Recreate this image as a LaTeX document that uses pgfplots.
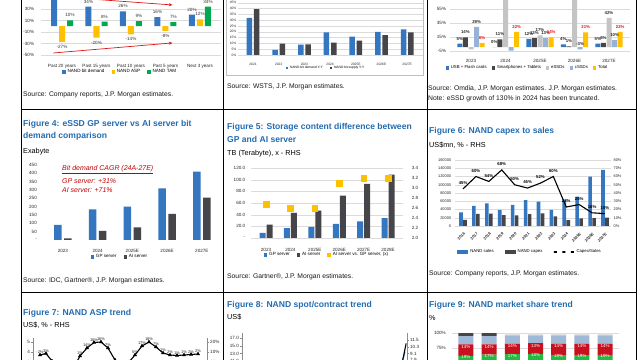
\documentclass[border=0pt]{standalone}
\usepackage{pgfplots}
\pgfplotsset{compat=1.18}
\usepackage{fontspec}
\setmainfont{Liberation Sans}
\usetikzlibrary{arrows.meta}
\newcommand\fs[1]{\fontsize{#1}{#1}\selectfont}
\definecolor{jpblue}{RGB}{52,118,192}
\definecolor{ttlblue}{RGB}{35,108,178}
\definecolor{jpdark}{RGB}{70,70,74}
\definecolor{jpyellow}{RGB}{255,192,0}
\definecolor{jpgreen}{RGB}{0,168,80}
\definecolor{jplgrey}{RGB}{196,196,196}
\definecolor{jplblue}{RGB}{150,178,214}
\definecolor{jpred}{RGB}{225,20,20}
\definecolor{annred}{RGB}{192,0,0}
\definecolor{segred}{RGB}{200,16,30}
\definecolor{segbg}{RGB}{160,185,215}
\pgfplotsset{
  sqleg/.style={legend image code/.code={\fill[##1] (0bp,-#1/2) rectangle (#1,#1/2);}},
  base/.style={scale only axis, axis line style={draw=none}, major tick style={draw=none}, minor tick style={draw=none},
    ymajorgrids, grid style={draw=black!14, line width=0.3bp},
    ticklabel style={text=black!85, inner sep=1bp}, scaled y ticks=false,
    /pgf/number format/assume math mode=true,
    legend style={draw=none, fill=none, legend columns=-1, inner sep=0pt, outer sep=0pt,
      /tikz/every even column/.append style={column sep=5bp}},
    legend cell align=left},
}
\tikzset{
  ttl/.style={anchor=west, inner sep=0pt, font=\fs{8.6}\bfseries, text=ttlblue},
  src/.style={anchor=west, inner sep=0pt, font=\fs{6.8}, text=black!90},
  unit/.style={anchor=west, inner sep=0pt, font=\fs{7.3}, text=black},
}
\begin{document}
\begin{tikzpicture}
\useasboundingbox (0,0) rectangle (640bp,360bp);
\clip (0,0) rectangle (640bp,360bp);
\fill[white] (0,0) rectangle (640bp,360bp);
\draw[line width=0.7bp] (21bp,0) -- (21bp,360bp) (223bp,0) -- (223bp,360bp) (427bp,0) -- (427bp,360bp)
  (636bp,0) -- (636bp,360bp)
  (21bp,251bp) -- (636bp,251bp) (21bp,68bp) -- (636bp,68bp);

%%%%% Panel 1
\begin{axis}[base, at={(41.3bp,305bp)}, anchor=south west, width=179.4bp, height=69bp,
  xmin=-0.6, xmax=4.6, ymin=-50, ymax=70,
  ytick={-50,-30,-10,10,30,50}, yticklabels={-50\%,-30\%,-10\%,10\%,30\%,50\%},
  xtick={0,...,4}, xticklabels={Past 20 years,Past 15 years,Past 10 years,Past 5 years,Next 3 years},
  ticklabel style={font=\fs{4.6}}, yticklabel style={xshift=-6bp}, xticklabel style={yshift=-3.5bp},
  ybar=2bp, bar width=6bp, sqleg={3.3bp},
  nodes near coords={\pgfmathprintnumber{\pgfplotspointmeta}\%},
  every node near coord/.append style={font=\fs{4.6}, text=black!80},
  legend style={at={(0.44,-0.246)}, anchor=center, font=\fs{4.6}}]
\addplot[fill=jpblue, draw=none] coordinates {(0,50) (1,34) (2,26) (3,16) (4,20)};
\addlegendentry{NAND bit demand}
\addplot[fill=jpyellow, draw=none] coordinates {(0,-27) (1,-20) (2,-14) (3,-8) (4,12)};
\addlegendentry{NAND ASP}
\addplot[fill=jpgreen, draw=none] coordinates {(0,10) (1,8) (2,9) (3,7) (4,34)};
\addlegendentry{NAND TAM}
\draw[jpred, line width=0.7bp, -{Stealth[length=3.5bp,width=3bp]}] (axis cs:-0.25,52) -- (axis cs:3.2,37);
\draw[jpred, line width=0.7bp, -{Stealth[length=3.5bp,width=3bp]}] (axis cs:-0.25,-46.5) -- (axis cs:3.2,-29);
\end{axis}
\node[src] at (23bp,265bp) {Source: Company reports, J.P. Morgan estimates.};

%%%%% Panel 2
\draw[black!25, line width=0.4bp] (226bp,285bp) rectangle (423bp,370bp);
\begin{axis}[base, at={(237.6bp,305bp)}, anchor=south west, width=185bp, height=52.3bp,
  xmin=-0.6, xmax=6.6, ymin=0, ymax=45, ytick={0,5,...,45}, yticklabel={\pgfmathprintnumber{\tick}\%},
  xtick={0,...,6}, xticklabels={2021,2022,2023,2024,2025E,2026E,2027E},
  ticklabel style={font=\fs{3.3}}, xticklabel style={yshift=-3bp},
  ybar=1.8bp, bar width=5.5bp, sqleg={2.4bp},
  legend style={at={(0.478,-0.249)}, anchor=center, font=\fs{3.3}}]
\addplot[fill=jpblue, draw=none] coordinates {(0,32) (1,4.3) (2,8.9) (3,19.5) (4,15.8) (5,20) (6,22)};
\addlegendentry{NAND bit demand Y-Y}
\addplot[fill=jpdark, draw=none] coordinates {(0,39.4) (1,9.8) (2,9.2) (3,10.6) (4,12.4) (5,17.2) (6,19.5)};
\addlegendentry{NAND bit supply Y-Y}
\end{axis}
\node[src] at (227bp,273bp) {Source: WSTS, J.P. Morgan estimates.};

%%%%% Panel 3
\begin{axis}[base, at={(450.3bp,309.3bp)}, anchor=south west, width=179.4bp, height=56bp,
  xmin=-0.6, xmax=4.6, ymin=-5, ymax=75, ytick={-5,15,35,55,75}, yticklabels={-5\%,15\%,35\%,55\%,75\%},
  xtick={0,...,4}, xticklabels={2023,2024,2025E,2026E,2027E},
  ticklabel style={font=\fs{4.6}}, yticklabel style={xshift=-3bp}, xticklabel style={yshift=-3bp},
  ybar=0.6bp, bar width=5bp, sqleg={3.3bp}, point meta=explicit symbolic, nodes near coords,
  every node near coord/.append style={font=\fs{4.3}\bfseries, text=black!85},
  legend style={at={(0.43,-0.309)}, anchor=center, font=\fs{4.3}, /tikz/every even column/.append style={column sep=3bp}}]
\addplot[fill=jpblue, draw=none] coordinates {(0,5)[5\%] (1,0)[0\%] (2,12)[12\%] (3,4)[4\%] (4,5)[5\%]};
\addlegendentry{USB + Flash cards}
\addplot[fill=jpdark, draw=none] coordinates {(0,14)[14\%] (1,11)[11\%] (2,13)[13\%] (3,1)[1\%] (4,6)[6\%]};
\addlegendentry{Smartphones + Tablets}
\addplot[fill=jplgrey, draw=none] coordinates {(0,-3)[] (1,130)[] (2,17)[17\%] (3,90)[] (4,42)[42\%]};
\addlegendentry{eSSDs}
\addplot[fill=jplblue, draw=none] coordinates {(0,29)[29\%] (1,-5)[] (2,13)[13\%] (3,-3)[-3\%] (4,10)[10\%]};
\addlegendentry{cSSDs}
\addplot[fill=jpyellow, draw=none, every node near coord/.append style={text=jpred}] coordinates {(0,6)[6\%] (1,22)[22\%] (2,14)[14\%] (3,21)[21\%] (4,22)[22\%]};
\addlegendentry{Total}
\end{axis}
\node[src] at (428bp,271bp) {Source: Omdia, J.P. Morgan estimates. J.P. Morgan estimates.};
\node[src] at (428bp,261bp) {Note: eSSD growth of 130\% in 2024 has been truncated.};

%%%%% Panel 4
\node[ttl] at (23bp,236bp) {Figure 4: eSSD GP server vs AI server bit};
\node[ttl] at (23bp,224bp) {demand comparison};
\node[unit] at (23bp,208bp) {Exabyte};
\begin{axis}[base, ymajorgrids=false, at={(42bp,120bp)}, anchor=south west, width=175.5bp, height=75bp,
  xmin=-0.6, xmax=4.45, ymin=0, ymax=450, ytick={0,50,...,450},
  yticklabels={-,50,100,150,200,250,300,350,400,450},
  xtick={0,...,4}, xticklabels={2023,2024,2025E,2026E,2027E},
  ticklabel style={font=\fs{4.6}}, yticklabel style={xshift=-4bp}, xticklabel style={yshift=-3.5bp},
  ybar=2.5bp, bar width=7.5bp, sqleg={3.3bp},
  legend style={at={(0.444,-0.227)}, anchor=center, font=\fs{4.6}}]
\addplot[fill=jpblue, draw=none] coordinates {(0,90) (1,184) (2,200) (3,310) (4,410)};
\addlegendentry{GP server}
\addplot[fill=jpdark, draw=none] coordinates {(0,10) (1,54) (2,76) (3,156) (4,254)};
\addlegendentry{AI server}
\draw[black!35, line width=0.4bp] (rel axis cs:0,0) -- (rel axis cs:1,0);
\end{axis}
\node[anchor=west, inner sep=0pt, font=\fs{7}\itshape, text=annred] at (62bp,190bp) {\underline{Bit demand CAGR (24A-27E)}};
\node[anchor=west, inner sep=0pt, font=\fs{7}\itshape, text=annred] at (62bp,179bp) {GP server: +31\%};
\node[anchor=west, inner sep=0pt, font=\fs{7}\itshape, text=annred] at (62bp,170bp) {AI server: +71\%};
\node[src] at (23bp,79bp) {Source: IDC, Gartner®, J.P. Morgan estimates.};

%%%%% Panel 5
\node[ttl] at (227bp,233bp) {Figure 5: Storage content difference between};
\node[ttl] at (227bp,221bp) {GP and AI server};
\node[unit] at (227bp,206bp) {TB (Terabyte), x - RHS};
\begin{axis}[base, at={(251.4bp,122bp)}, anchor=south west, width=151.3bp, height=70bp,
  xmin=-0.6, xmax=5.6, ymin=0, ymax=120, ytick={0,20,...,120},
  yticklabels={-,20.0,40.0,60.0,80.0,100.0,120.0},
  xtick={0,...,5}, xticklabels={2023,2024,2025E,2026E,2027E,2028E},
  ticklabel style={font=\fs{4.6}}, yticklabel style={xshift=-5bp}, xticklabel style={yshift=-4.5bp},
  ybar=1bp, bar width=6bp, sqleg={3.3bp},
  legend style={at={(0.5,-0.243)}, anchor=center, font=\fs{4.6}}]
\addplot[fill=jpblue, draw=none] coordinates {(0,8.6) (1,17) (2,19) (3,24) (4,28.6) (5,34)};
\addlegendentry{GP server}
\addplot[fill=jpdark, draw=none] coordinates {(0,22.9) (1,43) (2,47) (3,72.6) (4,92.6) (5,108.6)};
\addlegendentry{AI server}
\addlegendimage{fill=jpyellow, draw=none}
\addlegendentry{AI server vs. GP server, (x)}
\end{axis}
\begin{axis}[base, ymajorgrids=false, at={(251.4bp,122bp)}, anchor=south west, width=151.3bp, height=70bp,
  xmin=-0.6, xmax=5.6, ymin=2.0, ymax=3.4, ytick={2.0,2.2,...,3.4}, xtick=\empty,
  yticklabel pos=right, yticklabel={\pgfmathprintnumber[fixed,fixed zerofill,precision=1]{\tick}},
  ticklabel style={font=\fs{4.6}}, yticklabel style={xshift=8bp}]
\addplot[only marks, mark=square*, mark size=2.8bp, color=jpyellow] coordinates {(0,2.68) (1,2.6) (2,2.6) (3,3.09) (4,3.2) (5,3.19)};
\end{axis}
\node[src] at (227bp,83bp) {Source: Gartner®, J.P. Morgan estimates.};

%%%%% Panel 6
\node[ttl] at (429bp,229bp) {Figure 6: NAND capex to sales};
\node[unit] at (429bp,215bp) {US\$mn, \% - RHS};
\begin{axis}[base, at={(455.3bp,134bp)}, anchor=south west, width=156.1bp, height=66bp,
  xmin=-0.6, xmax=11.5, ymin=0, ymax=160000, ytick={0,20000,40000,60000,80000,100000,120000,140000,160000},
  yticklabels={0,20000,40000,60000,80000,100000,120000,140000,160000},
  xtick={0,...,11}, xticklabels={2016,2017,2018,2019,2020,2021,2022,2023,2024,2025E,2026E,2027E},
  xticklabel style={rotate=45, anchor=north east, font=\fs{3.9}\bfseries, yshift=-0.5bp},
  yticklabel style={font=\fs{3.9}, xshift=-3bp},
  ybar=0.4bp, bar width=3.6bp,
  legend image code/.code={\fill[#1] (0bp,-1.7bp) rectangle (11bp,1.7bp);},
  legend style={at={(0.479,-0.394)}, anchor=center, font=\fs{4.3}, /tikz/every even column/.append style={column sep=9bp}}]
\addplot[fill=jpblue, draw=none] coordinates {(0,33100) (1,48500) (2,55000) (3,38800) (4,51000) (5,63000) (6,59000) (7,38800) (8,63000) (9,71000) (10,119600) (11,135800)};
\addlegendentry{NAND sales}
\addplot[fill=jpdark, draw=none] coordinates {(0,14900) (1,29100) (2,29700) (3,26400) (4,25500) (5,29000) (6,30700) (7,23300) (8,14500) (9,18500) (10,19100) (11,20400)};
\addlegendentry{NAND capex}
\addlegendimage{line legend, black, line width=1.1bp}
\addlegendentry{Capex/Sales}
\end{axis}
\begin{axis}[base, ymajorgrids=false, at={(455.3bp,134bp)}, anchor=south west, width=156.1bp, height=66bp,
  xmin=-0.6, xmax=11.5, ymin=0, ymax=80, ytick={0,10,...,80}, xtick=\empty,
  yticklabel pos=right, yticklabel={\pgfmathprintnumber{\tick}\%},
  ticklabel style={font=\fs{3.9}}, yticklabel style={xshift=1bp}]
\addplot[black, line width=1.1bp, mark=none, nodes near coords={\pgfmathprintnumber{\pgfplotspointmeta}\%},
  every node near coord/.append style={font=\fs{4.3}\bfseries, text=black, anchor=south, yshift=0.5bp}]
  coordinates {(0,45) (1,60) (2,54) (3,68) (4,50) (5,46) (6,52) (7,60) (8,23) (9,26) (10,16) (11,15)};
\end{axis}
\node[src] at (429bp,86bp) {Source: Company reports, J.P. Morgan estimates.};

%%%%% Panel 7
\node[ttl] at (23bp,47bp) {Figure 7: NAND ASP trend};
\node[unit] at (23bp,35bp) {US\$, \% - RHS};
\begin{axis}[base, ymajorgrids=false, at={(33bp,-32bp)}, anchor=south west, width=174bp, height=54bp,
  xmin=0, xmax=174, ymin=0, ymax=5.4, ytick={1,2,3,4,5}, xtick=\empty,
  axis y line*=left, axis x line=none, axis line style={draw=black!45, line width=0.4bp},
  major tick style={draw=black!45, line width=0.4bp}, tick align=outside, major tick length=2bp,
  ticklabel style={font=\fs{4.6}}]
\addplot[black, line width=1.1bp, mark=triangle*, mark size=1.3bp, point meta=explicit symbolic, nodes near coords,
  every node near coord/.append style={font=\fs{4}, text=black!85, anchor=south, inner sep=0.6bp}]
  coordinates {(7,3.7)[-2\%] (13,3.85)[3\%] (19,3.1)[] (26,2.2)[] (33,1.6)[] (40,2.3)[] (47,3.6)[1\%]
  (54,4.4)[14\%] (61,4.95)[16\%] (68,5.0)[16\%] (75,4.4)[7\%] (82,3.2)[] (89,2.4)[] (96,3.0)[]
  (102,3.7)[5\%] (109,4.6)[17\%] (116,5.0)[18\%] (123,4.5)[7\%] (130,3.9)[1\%] (137,3.7)[2\%]
  (144,3.65)[1\%] (151,3.7)[1\%] (158,3.75)[2\%] (165,3.8)[2\%]};
\end{axis}
\begin{axis}[base, ymajorgrids=false, at={(33bp,-32bp)}, anchor=south west, width=174bp, height=54bp,
  xmin=0, xmax=174, ymin=-30, ymax=24, ytick={-20,-10,0,10,20}, xtick=\empty,
  yticklabel={\pgfmathprintnumber{\tick}\%},
  axis y line*=right, axis x line=none, axis line style={draw=black!45, line width=0.4bp},
  major tick style={draw=black!45, line width=0.4bp}, tick align=outside, major tick length=2bp,
  ticklabel style={font=\fs{4.6}}]
\addplot[draw=none] coordinates {(0,0)};
\end{axis}

%%%%% Panel 8
\node[ttl] at (227bp,55bp) {Figure 8: NAND spot/contract trend};
\node[unit] at (227bp,43bp) {US\$};
\begin{axis}[base, ymajorgrids=false, at={(242bp,-40bp)}, anchor=south west, width=165bp, height=67bp,
  xmin=0, xmax=40, ymin=1, ymax=18.3, ytick={1,3,...,17}, xtick=\empty,
  yticklabel={\pgfmathprintnumber[fixed,fixed zerofill,precision=1]{\tick}},
  axis y line*=left, axis x line=none, axis line style={draw=black!45, line width=0.4bp},
  major tick style={draw=black!45, line width=0.4bp}, tick align=outside, major tick length=2bp,
  ticklabel style={font=\fs{4.6}}]
\addplot[draw=none] coordinates {(0,5)};
\end{axis}
\begin{axis}[base, ymajorgrids=false, at={(242bp,-40bp)}, anchor=south west, width=165bp, height=67bp,
  xmin=0, xmax=40, ymin=0.83, ymax=12.74, ytick={1.9,3.1,4.3,5.5,6.7,7.9,9.1,10.3,11.5}, xtick=\empty,
  yticklabel={\pgfmathprintnumber[fixed,fixed zerofill,precision=1]{\tick}},
  axis y line*=right, axis x line=none, axis line style={draw=black!45, line width=0.4bp},
  major tick style={draw=black!45, line width=0.4bp}, tick align=outside, major tick length=2bp,
  ticklabel style={font=\fs{4.6}}]
\addplot[jpblue, line width=1bp] coordinates {(0,4.2) (5,4.0) (10,3.6) (15,3.3) (20,3.1) (25,3.0) (30,3.2) (35,3.6) (38,5.5) (39.5,9.3)};
\addplot[black, line width=1.1bp] coordinates {(0,3.0) (5,2.6) (10,2.2) (15,1.9) (20,1.8) (25,1.7) (30,1.9) (35,2.4) (38,4.5) (39.8,10.9)};
\end{axis}

%%%%% Panel 9
\node[ttl] at (429bp,55bp) {Figure 9: NAND market share trend};
\node[unit] at (429bp,42bp) {\%};
\begin{axis}[base, at={(452bp,-33bp)}, anchor=south west, width=167bp, height=60bp,
  xmin=-0.6, xmax=6.6, ymin=0, ymax=100, ytick={0,25,...,100}, yticklabel={\pgfmathprintnumber{\tick}\%},
  xtick=\empty, ticklabel style={font=\fs{4.6}}, yticklabel style={xshift=-5bp},
  ybar stacked, bar width=15bp, point meta=explicit symbolic, nodes near coords,
  every node near coord/.append style={font=\fs{4.5}, text=white, anchor=north, yshift=-1.5bp}]
\addplot[fill=jpblue, draw=none] coordinates {(0,51)[] (1,52)[] (2,54)[] (3,54)[] (4,51)[] (5,51)[] (6,51)[]};
\addplot[fill=jpgreen!80!lime, draw=none] coordinates {(0,11)[11\%] (1,12)[12\%] (2,11)[11\%] (3,11)[11\%] (4,12)[12\%] (5,12)[12\%] (6,12)[12\%]};
\addplot[fill=segred, draw=none] coordinates {(0,19)[19\%] (1,17)[17\%] (2,17)[17\%] (3,18)[18\%] (4,19)[19\%] (5,19)[19\%] (6,19)[19\%]};
\addplot[fill=segbg, draw=none] coordinates {(0,14)[14\%] (1,14)[14\%] (2,14)[14\%] (3,13)[13\%] (4,14)[14\%] (5,14)[14\%] (6,14)[14\%]};
\addplot[fill=black!12, draw=none] coordinates {(0,0)[] (1,0)[] (2,4)[] (3,4)[] (4,4)[] (5,4)[] (6,4)[]};
\addplot[fill=jpdark, draw=none] coordinates {(0,5)[] (1,5)[] (2,0)[] (3,0)[] (4,0)[] (5,0)[] (6,0)[]};
\end{axis}
\end{tikzpicture}
\end{document}
